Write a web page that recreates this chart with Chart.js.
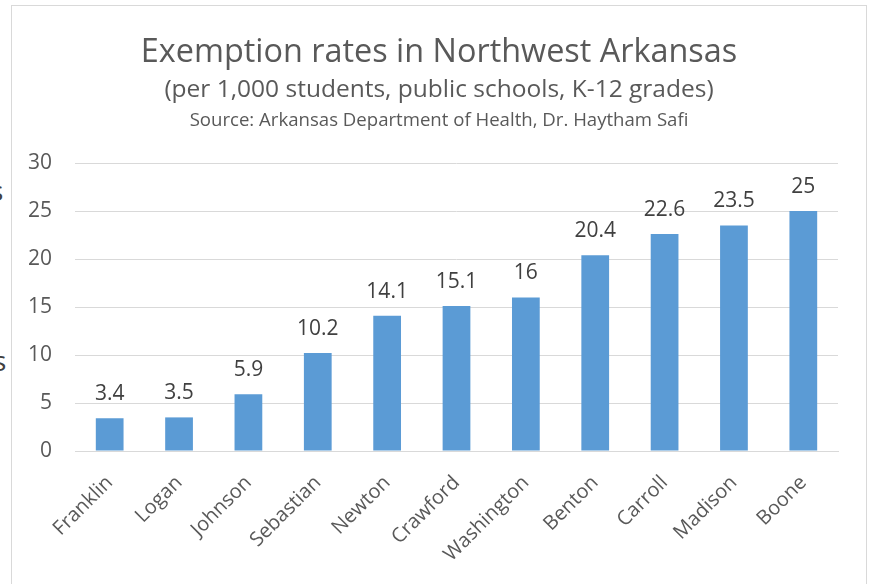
<!DOCTYPE html>
<html>
<head>
<meta charset="utf-8">
<script src="https://cdn.jsdelivr.net/npm/chart.js@4/dist/chart.umd.min.js"></script>
<style>
  html, body { margin: 0; padding: 0; background: #fff; }
  #wrap { position: relative; width: 872px; height: 584px; overflow: hidden; }
  #frame { position: absolute; left: 11px; top: 5px; width: 856px; height: 640px; border: 1px solid #d9d9d9; box-sizing: border-box; }
  #chart { position: absolute; left: 0; top: 0; }
  .cut { position: absolute; font-family: "Open Sans", sans-serif; font-size: 28px; color: #404040; line-height: 1; }
</style>
</head>
<body>
<div id="wrap">
  <span class="cut" style="left:-10px;top:176px">s</span>
  <span class="cut" style="left:-7px;top:346px">s</span>
  <div id="frame"></div>
  <canvas id="chart" width="872" height="584"></canvas>
</div>
<script>
const counties = ['Franklin', 'Logan', 'Johnson', 'Sebastian', 'Newton', 'Crawford', 'Washington', 'Benton', 'Carroll', 'Madison', 'Boone']
const rates = [3.4, 3.5, 5.9, 10.2, 14.1, 15.1, 16, 20.4, 22.6, 23.5, 25]
const yTicks = [0, 5, 10, 15, 20, 25, 30]
const titleText = 'Exemption rates in Northwest Arkansas'
const subtitleText = '(per 1,000 students, public schools, K-12 grades)'
const sourceText = 'Source: Arkansas Department of Health, Dr. Haytham Safi'

const FONT = '"Open Sans", "Noto Sans", sans-serif'

// header lines drawn centred on the framed box
const headerPlugin = {
  id: 'header',
  afterDraw(chart) {
    const ctx = chart.ctx
    ctx.save()
    ctx.fillStyle = '#595959'
    ctx.textAlign = 'center'
    ctx.textBaseline = 'alphabetic'
    ctx.font = '32.4px ' + FONT
    ctx.fillText(titleText, 439, 62)
    ctx.font = '24.5px ' + FONT
    ctx.fillText(subtitleText, 439, 97)
    ctx.font = '18.6px ' + FONT
    ctx.fillText(sourceText, 439, 126)
    ctx.restore()
  }
}

// value labels above each bar
const valueLabels = {
  id: 'valueLabels',
  afterDatasetsDraw(chart) {
    const ctx = chart.ctx
    const meta = chart.getDatasetMeta(0)
    ctx.save()
    ctx.fillStyle = '#404040'
    ctx.font = '21px ' + FONT
    ctx.textAlign = 'center'
    ctx.textBaseline = 'alphabetic'
    meta.data.forEach((bar, i) => {
      ctx.fillText(String(rates[i]), bar.x, bar.y - 18)
    })
    ctx.restore()
  }
}

new Chart(document.getElementById('chart'), {
  type: 'bar',
  data: {
    labels: counties,
    datasets: [{
      data: rates,
      backgroundColor: '#5b9bd5',
      borderWidth: 0,
      categoryPercentage: 1,
      barPercentage: 0.4
    }]
  },
  options: {
    responsive: false,
    animation: false,
    layout: { padding: { left: 0, right: 34, top: 163, bottom: 0 } },
    plugins: {
      legend: { display: false },
      tooltip: { enabled: false }
    },
    scales: {
      x: {
        afterFit: s => { s.height = 133 },
        grid: { display: false, drawTicks: false },
        border: { display: true, color: '#d9d9d9', width: 1 },
        ticks: {
          color: '#595959',
          font: { family: FONT, size: 20 },
          maxRotation: 45,
          minRotation: 45,
          padding: 20,
          autoSkip: false
        }
      },
      y: {
        min: 0,
        max: 30,
        afterFit: s => { s.width = 75 },
        afterBuildTicks: s => { s.ticks = yTicks.map(v => ({ value: v })) },
        grid: { color: '#d9d9d9', lineWidth: 1, drawTicks: false },
        border: { display: false },
        ticks: {
          color: '#595959',
          font: { family: FONT, size: 21 },
          padding: 23
        }
      }
    }
  },
  plugins: [headerPlugin, valueLabels]
})
</script>
</body>
</html>
